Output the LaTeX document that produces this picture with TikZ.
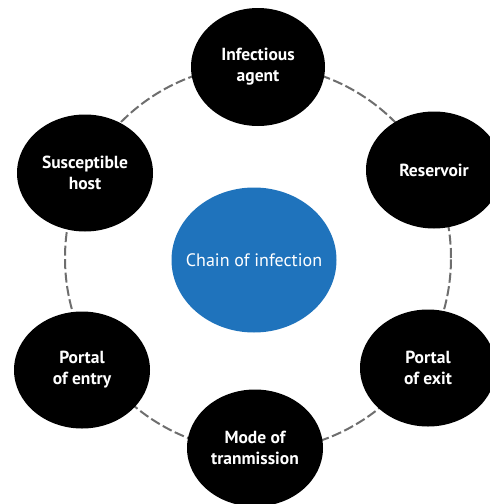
\documentclass[tikz,border=0pt]{standalone}
\usepackage{fontspec}
\setmainfont{PT Sans}
\usetikzlibrary{shapes.geometric}
\definecolor{ringgray}{HTML}{6E6E6E}
\definecolor{chainblue}{HTML}{1F73BC}
\tikzset{
  x=1pt, y=-1pt,
  linkbox/.style={ellipse, fill=black, draw=none, text=white, font=\fontsize{17.5}{21}\selectfont\bfseries,
    align=center, minimum width=136pt, minimum height=117pt, inner sep=0pt},
  hubbox/.style={ellipse, fill=chainblue, draw=none, minimum width=165pt, minimum height=145pt, inner sep=0pt},
  hubtext/.style={text=white, font=\fontsize{18}{21}\selectfont, inner sep=0pt},
  ring/.style={draw=ringgray, line width=2pt, dash pattern=on 10pt off 3.5pt}
}
\begin{document}
\begin{tikzpicture}
\useasboundingbox (0,0) rectangle (490,504);
\clip (0,0) rectangle (490,504);
\coordinate (ctr) at (258,258);
\draw[ring] (ctr) circle[radius=193pt];
\node[hubbox, label={[hubtext]center:Chain of infection}] (hub) at (254,260) {};
\node[linkbox, minimum width=134pt, minimum height=118pt] (agent) at (258,67) {Infectious\\agent};
\node[linkbox] (res) at (434,170) {Reservoir};
\node[linkbox] (exit) at (428,368) {Portal\\of exit};
\node[linkbox] (mode) at (255,448) {Mode of\\tranmission};
\node[linkbox] (entry) at (82,370) {Portal\\of entry};
\node[linkbox] (host) at (85,173) {Susceptible\\host};
\end{tikzpicture}
\end{document}
